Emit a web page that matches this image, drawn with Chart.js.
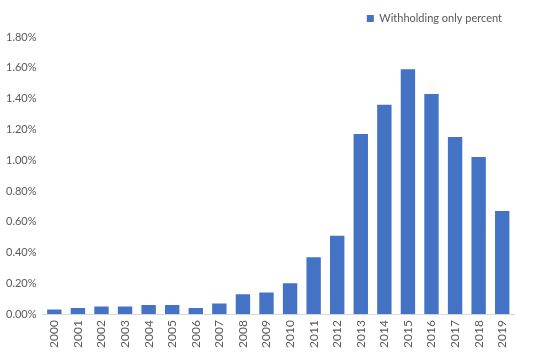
<!DOCTYPE html>
<html>
<head>
<meta charset="utf-8">
<script src="https://cdn.jsdelivr.net/npm/chart.js@4"></script>
<style>
  html, body { margin: 0; padding: 0; background: #fff; }
  #wrap { width: 542px; height: 354px; }
</style>
</head>
<body>
<div id="wrap"><canvas id="chart"></canvas></div>
<script>
const years = ["2000", "2001", "2002", "2003", "2004", "2005", "2006", "2007", "2008", "2009",
  "2010", "2011", "2012", "2013", "2014", "2015", "2016", "2017", "2018", "2019"];
// percent values
const withholdingOnly = [0.03, 0.04, 0.05, 0.05, 0.06, 0.06, 0.04, 0.07, 0.13, 0.14,
  0.20, 0.37, 0.51, 1.17, 1.36, 1.59, 1.43, 1.15, 1.02, 0.67];
const seriesLabel = "Withholding only percent";

const textColor = "#595959";
const fontFamily = "Lato, 'Open Sans', sans-serif";

new Chart(document.getElementById("chart"), {
  type: "bar",
  data: {
    labels: years,
    datasets: [{
      label: seriesLabel,
      data: withholdingOnly,
      backgroundColor: "#4472C4",
      categoryPercentage: 1,
      barPercentage: 0.61
    }]
  },
  options: {
    responsive: true,
    maintainAspectRatio: false,
    animation: false,
    layout: { padding: { left: 0, right: 28, top: 1, bottom: 0 } },
    plugins: {
      legend: {
        position: "top",
        align: "end",
        labels: {
          boxWidth: 7,
          boxHeight: 7,
          color: textColor,
          font: { family: fontFamily, size: 11 },
          padding: 12
        }
      },
      tooltip: { enabled: false }
    },
    scales: {
      x: {
        grid: { display: false, drawTicks: false },
        border: { color: "#d9d9d9" },
        ticks: {
          color: textColor,
          font: { family: fontFamily, size: 12 },
          minRotation: 90,
          maxRotation: 90,
          padding: 6
        }
      },
      y: {
        min: 0,
        max: 1.8,
        grid: { display: false, drawTicks: false },
        border: { display: false },
        ticks: {
          stepSize: 0.2,
          color: textColor,
          font: { family: fontFamily, size: 11 },
          padding: 6,
          callback: v => v.toFixed(2) + "%"
        }
      }
    }
  },
  plugins: [{
    id: "legendGap",
    beforeInit(chart) {
      const fit = chart.legend.fit;
      chart.legend.fit = function () {
        fit.bind(this)();
        this.height += 3;
      };
    }
  }]
});
</script>
</body>
</html>
